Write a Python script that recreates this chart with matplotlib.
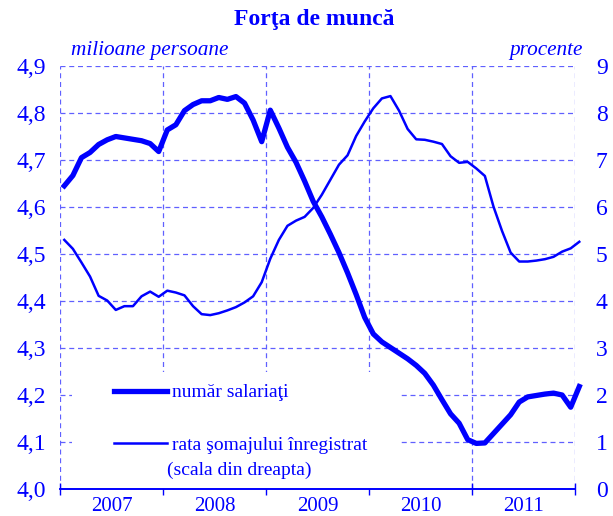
import matplotlib.pyplot as plt
import matplotlib.patches as mpatches
from matplotlib.ticker import FuncFormatter
import numpy as np

# lunar, ian 2007 - ian 2012
salariati = [4.645, 4.667, 4.705, 4.716, 4.733, 4.743, 4.750, 4.747, 4.744, 4.741,
             4.735, 4.718, 4.764, 4.775, 4.805, 4.818, 4.826, 4.826, 4.833, 4.829,
             4.835, 4.821, 4.785, 4.739, 4.806, 4.768, 4.727, 4.695, 4.655, 4.612,
             4.579, 4.542, 4.503, 4.460, 4.414, 4.365, 4.330, 4.313, 4.301, 4.289,
             4.277, 4.263, 4.246, 4.221, 4.190, 4.160, 4.140, 4.105, 4.097, 4.098,
             4.118, 4.138, 4.158, 4.185, 4.196, 4.199, 4.202, 4.204, 4.200, 4.174,
             4.218]
somaj = [5.30, 5.11, 4.82, 4.52, 4.11, 4.01, 3.81, 3.89, 3.89, 4.10,
         4.20, 4.09, 4.22, 4.18, 4.12, 3.89, 3.72, 3.70, 3.74, 3.80,
         3.87, 3.97, 4.10, 4.40, 4.90, 5.30, 5.60, 5.71, 5.79, 5.98,
         6.26, 6.58, 6.90, 7.10, 7.51, 7.82, 8.10, 8.31, 8.36, 8.05,
         7.66, 7.44, 7.43, 7.39, 7.34, 7.08, 6.94, 6.96, 6.82, 6.66,
         6.01, 5.49, 5.03, 4.84, 4.84, 4.86, 4.89, 4.94, 5.05, 5.12,
         5.26]
ani = ['2007', '2008', '2009', '2010', '2011']

blue = '#0000ff'
gridc = '#6060ff'
plt.rcParams['font.family'] = ['Liberation Serif', 'DejaVu Serif']

x = np.arange(len(salariati))

fig = plt.figure(figsize=(6.13, 5.16), dpi=100)
ax = fig.add_axes([60/613, 1-489/516, 515/613, 423/516])
ax2 = ax.twinx()

ax.set_xlim(-0.5, 59.5)
ax.set_ylim(4.0, 4.9)
ax2.set_ylim(0, 9)

ax.set_axisbelow(True)
ax.set_yticks(np.arange(4.0, 4.91, 0.1))
ax.yaxis.set_major_formatter(FuncFormatter(lambda v, p: f'{v:.1f}'.replace('.', ',')))
ax2.set_yticks(range(0, 10))

ax.set_xticks(np.arange(-0.5, 60, 12))
ax.set_xticks(np.arange(5.5, 60, 12), minor=True)
ax.set_xticklabels([])
ax.set_xticklabels(ani, minor=True)
ax.tick_params(axis='x', which='major', direction='inout', length=8, color=blue, width=1)
ax.tick_params(axis='x', which='minor', length=0, pad=6, labelsize=15, labelcolor=blue)
ax.tick_params(axis='y', length=0, pad=10, labelsize=17, labelcolor=blue)
ax2.tick_params(axis='y', length=0, pad=15, labelsize=17, labelcolor=blue)

ax.grid(True, which='major', color=gridc, linestyle=(0, (4, 3)), linewidth=0.9)

for a in (ax, ax2):
    for s in ('left', 'right', 'top'):
        a.spines[s].set_visible(False)
    a.spines['bottom'].set_color(blue)
    a.spines['bottom'].set_linewidth(1.2)

# fundal alb sub legenda
ax.add_patch(mpatches.Rectangle((0.023, 0.0), 0.637, 0.277, transform=ax.transAxes,
                                facecolor='white', edgecolor='none', zorder=1))

l1, = ax.plot(x, salariati, color=blue, lw=3.8, solid_joinstyle='round',
              clip_on=False, zorder=3, label='număr salariaţi')
l2, = ax2.plot(x, somaj, color=blue, lw=1.8, clip_on=False, zorder=3,
               label='rata şomajului înregistrat')

ax2.legend(handles=[l1, l2], loc='upper left', bbox_to_anchor=(0.07, 0.29),
           frameon=False, fontsize=14, labelcolor=blue, handlelength=2.75,
           handletextpad=0.26, labelspacing=1.8)
ax2.text(0.207, 0.045, '(scala din dreapta)', transform=ax2.transAxes,
         fontsize=14, color=blue, va='center', ha='left')

fig.text(0.512, 0.962, 'Forţa de muncă', ha='center', va='center',
         fontsize=17, fontweight='bold', color=blue)
fig.text(71/613, 1-50/516, 'milioane persoane', ha='left', va='center',
         fontsize=15.3, style='italic', color=blue)
fig.text(583/613, 1-50/516, 'procente', ha='right', va='center',
         fontsize=15.3, style='italic', color=blue)

fig.savefig('out.png', dpi=100)
